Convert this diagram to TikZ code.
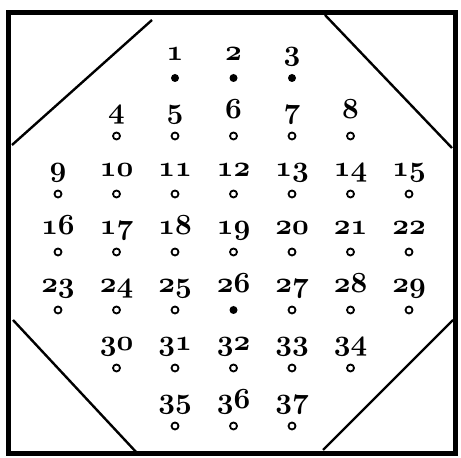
\documentclass[tikz,border=0pt]{standalone}
\newcommand{\osnum}[1]{\scalebox{1.17}{\fontsize{27}{27}\usefont{OML}{cmm}{b}{it}#1}}
\begin{document}
\begin{tikzpicture}[x=1pt,y=1pt,
  frame/.style={line width=5pt},
  corner/.style={line width=2.4pt},
  num/.style={anchor=base,inner sep=0pt},
  holeopen/.style={circle,draw,line width=1.8pt,minimum size=7pt,inner sep=0pt},
  holefull/.style={circle,fill,minimum size=8pt,inner sep=0pt}]
\useasboundingbox (0,0) rectangle (461,458);
\draw[frame] (8,445) rectangle (455,4);
\draw[corner] (152,438) -- (12,313);
\draw[corner] (325,443) -- (452,310);
\draw[corner] (13,138) -- (137,5);
\draw[corner] (453,138) -- (323,8);
\foreach \n/\c/\r in {1/3/1,2/4/1,3/5/1,
  4/2/2,5/3/2,6/4/2,7/5/2,8/6/2,
  9/1/3,10/2/3,11/3/3,12/4/3,13/5/3,14/6/3,15/7/3,
  16/1/4,17/2/4,18/3/4,19/4/4,20/5/4,21/6/4,22/7/4,
  23/1/5,24/2/5,25/3/5,26/4/5,27/5/5,28/6/5,29/7/5,
  30/2/6,31/3/6,32/4/6,33/5/6,34/6/6,
  35/3/7,36/4/7,37/5/7}{
  \pgfmathsetmacro{\xx}{58.5*\c-0.5}
  \pgfmathsetmacro{\yy}{380-58*(\r-1)}
  \ifnum\n=1 \def\st{holefull}\else
  \ifnum\n=2 \def\st{holefull}\else
  \ifnum\n=3 \def\st{holefull}\else
  \ifnum\n=26 \def\st{holefull}\else
  \def\st{holeopen}\fi\fi\fi\fi
  \node[\st] (h\n) at (\xx,\yy) {};
  \node[num] (n\n) at (\xx,\yy+17) {\osnum{\n}};
}
\end{tikzpicture}
\end{document}
